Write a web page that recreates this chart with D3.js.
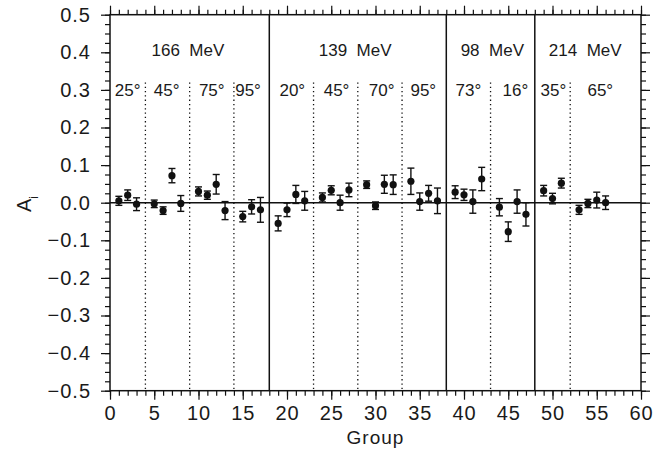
<!DOCTYPE html>
<html>
<head>
<meta charset="utf-8">
<title>Asymmetry by group</title>
<script src="https://d3js.org/d3.v7.min.js"></script>
<style>
    body { margin: 0; background: #fff; }
    svg text { font-family: "Liberation Sans", Arial, sans-serif; fill: #1a1a1a; }
    .frame { fill: none; stroke: #111; stroke-width: 1.5; }
    .axis path { display: none; }
    .axis line { stroke: #111; stroke-width: 1.2; }
</style>
</head>
<body>
<script>
    // data
    var groups = [1, 2, 3, 5, 6, 7, 8, 10, 11, 12, 13, 15, 16, 17,
        19, 20, 21, 22, 24, 25, 26, 27, 29, 30, 31, 32, 34, 35, 36, 37,
        39, 40, 41, 42, 44, 45, 46, 47, 49, 50, 51, 53, 54, 55, 56];
    var values = [0.005, 0.020, -0.004, -0.003, -0.021, 0.072, -0.002, 0.030, 0.020, 0.049, -0.021, -0.037, -0.011, -0.019,
        -0.055, -0.019, 0.022, 0.005, 0.014, 0.033, 0.000, 0.034, 0.048, -0.008, 0.049, 0.048, 0.057, 0.003, 0.025, 0.005,
        0.028, 0.021, 0.003, 0.063, -0.012, -0.077, 0.003, -0.031, 0.032, 0.011, 0.052, -0.019, -0.002, 0.007, 0.000];
    var errors = [0.012, 0.014, 0.017, 0.010, 0.010, 0.019, 0.021, 0.012, 0.011, 0.026, 0.024, 0.014, 0.019, 0.033,
        0.020, 0.018, 0.024, 0.025, 0.012, 0.012, 0.020, 0.018, 0.010, 0.010, 0.024, 0.026, 0.035, 0.023, 0.021, 0.034,
        0.017, 0.015, 0.031, 0.031, 0.023, 0.026, 0.031, 0.031, 0.014, 0.014, 0.013, 0.012, 0.011, 0.021, 0.018];

    var energyBounds = [18, 38, 48];
    var angleBounds = [4, 9, 14, 23, 28, 33, 43, 52];
    var energyLabels = ["166 MeV", "139 MeV", "98 MeV", "214 MeV"];
    var energyPos = [8.8, 27.7, 43.2, 53.7];
    var angleLabels = ["25°", "45°", "75°", "95°", "20°", "45°", "70°", "95°", "73°", "16°", "35°", "65°"];
    var anglePos = [2.0, 6.4, 11.5, 15.6, 20.6, 25.6, 30.7, 35.4, 40.5, 45.8, 50.1, 55.4];

    var w = 671, h = 451;
    var plotLeft = 110, plotRight = 641, plotTop = 14.7, plotBottom = 390.7;

    var x = d3.scaleLinear().domain([0, 60]).range([plotLeft, plotRight]);
    var y = d3.scaleLinear().domain([-0.5, 0.5]).range([plotBottom, plotTop]);

    var svg = d3.select("body").append("svg")
        .attr("width", w)
        .attr("height", h);

    var minorX = d3.range(0, 61, 1);
    var majorX = d3.range(0, 61, 5);
    var minorY = d3.range(-20, 21).map(function (i) { return i * 0.025; });
    var majorY = d3.range(-5, 6).map(function (i) { return i / 10; });

    // minor ticks (outward)
    svg.append("g").attr("class", "axis")
        .attr("transform", "translate(0," + plotBottom + ")")
        .call(d3.axisBottom(x).tickValues(minorX).tickSize(5).tickFormat(""));
    svg.append("g").attr("class", "axis")
        .attr("transform", "translate(0," + plotTop + ")")
        .call(d3.axisTop(x).tickValues(minorX).tickSize(5).tickFormat(""));
    svg.append("g").attr("class", "axis")
        .attr("transform", "translate(" + plotLeft + ",0)")
        .call(d3.axisLeft(y).tickValues(minorY).tickSize(5).tickFormat(""));
    svg.append("g").attr("class", "axis")
        .attr("transform", "translate(" + plotRight + ",0)")
        .call(d3.axisRight(y).tickValues(minorY).tickSize(5).tickFormat(""));

    // major ticks
    var xb = svg.append("g").attr("class", "axis")
        .attr("transform", "translate(0," + plotBottom + ")")
        .call(d3.axisBottom(x).tickValues(majorX).tickSize(9).tickPadding(6).tickFormat(d3.format("d")));
    xb.selectAll("text").style("font-size", "20px").style("letter-spacing", "1px");
    svg.append("g").attr("class", "axis")
        .attr("transform", "translate(0," + plotTop + ")")
        .call(d3.axisTop(x).tickValues(majorX).tickSize(9).tickFormat(""));
    var yl = svg.append("g").attr("class", "axis")
        .attr("transform", "translate(" + plotLeft + ",0)")
        .call(d3.axisLeft(y).tickValues(majorY).tickSize(9).tickPadding(10).tickFormat(d3.format(".1f")));
    yl.selectAll("text").style("font-size", "20px").style("letter-spacing", "1px");
    svg.append("g").attr("class", "axis")
        .attr("transform", "translate(" + plotRight + ",0)")
        .call(d3.axisRight(y).tickValues(majorY).tickSize(9).tickFormat(""));

    // frame
    svg.append("rect").attr("class", "frame")
        .attr("x", plotLeft).attr("y", plotTop)
        .attr("width", plotRight - plotLeft).attr("height", plotBottom - plotTop);

    // zero line
    svg.append("line")
        .attr("x1", x(0)).attr("x2", x(60))
        .attr("y1", y(0)).attr("y2", y(0))
        .attr("stroke", "#111").attr("stroke-width", 1.5);

    // energy separators
    svg.selectAll(".ebound").data(energyBounds).enter().append("line")
        .attr("x1", function (d) { return x(d); })
        .attr("x2", function (d) { return x(d); })
        .attr("y1", plotTop).attr("y2", plotBottom)
        .attr("stroke", "#111").attr("stroke-width", 1.5);

    // angle separators
    svg.selectAll(".abound").data(angleBounds).enter().append("line")
        .attr("x1", function (d) { return x(d); })
        .attr("x2", function (d) { return x(d); })
        .attr("y1", y(0.32)).attr("y2", plotBottom)
        .attr("stroke", "#111").attr("stroke-width", 1.3)
        .attr("stroke-dasharray", "1.3,3");

    svg.selectAll(".elabel").data(energyLabels).enter().append("text")
        .attr("x", function (d, i) { return x(energyPos[i]); })
        .attr("y", y(0.405))
        .attr("dy", "0.35em")
        .attr("text-anchor", "middle")
        .style("font-size", "17px")
        .style("white-space", "pre")
        .text(function (d) { return d.replace(" ", "  "); });

    svg.selectAll(".alabel").data(angleLabels).enter().append("text")
        .attr("x", function (d, i) { return x(anglePos[i]); })
        .attr("y", y(0.3))
        .attr("dy", "0.35em")
        .attr("text-anchor", "middle")
        .style("font-size", "17px")
        .text(function (d) { return d; });

    // error bars
    var pts = groups.map(function (g, i) { return { g: g, v: values[i], e: errors[i] }; });
    var eb = svg.append("g").attr("stroke", "#111").attr("stroke-width", 1.4);
    pts.forEach(function (d) {
        var cx = x(d.g);
        eb.append("line").attr("x1", cx).attr("x2", cx)
            .attr("y1", y(d.v - d.e)).attr("y2", y(d.v + d.e));
        eb.append("line").attr("x1", cx - 3.5).attr("x2", cx + 3.5)
            .attr("y1", y(d.v - d.e)).attr("y2", y(d.v - d.e));
        eb.append("line").attr("x1", cx - 3.5).attr("x2", cx + 3.5)
            .attr("y1", y(d.v + d.e)).attr("y2", y(d.v + d.e));
    });

    svg.selectAll(".pt").data(pts).enter().append("circle")
        .attr("cx", function (d) { return x(d.g); })
        .attr("cy", function (d) { return y(d.v); })
        .attr("r", 3.6)
        .attr("fill", "#111");

    // axis titles
    svg.append("text")
        .attr("x", (plotLeft + plotRight) / 2)
        .attr("y", 444)
        .attr("text-anchor", "middle")
        .style("font-size", "19px")
        .style("letter-spacing", "1px")
        .text("Group");

    var yt = svg.append("text")
        .attr("transform", "translate(31,204) rotate(-90)")
        .attr("text-anchor", "middle")
        .style("font-size", "20px");
    yt.append("tspan").text("A");
    yt.append("tspan").attr("baseline-shift", "sub").style("font-size", "12px").text("i");
</script>
</body>
</html>
